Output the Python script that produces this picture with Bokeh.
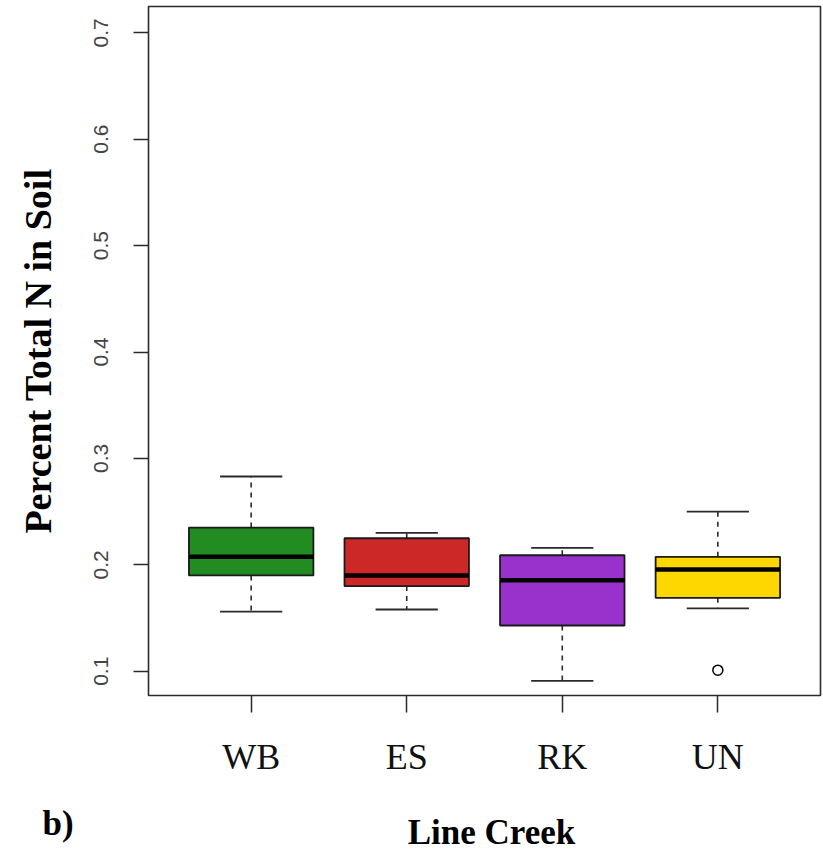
import math
from bokeh.plotting import figure
from bokeh.models import Range1d, FixedTicker, Label, ColumnDataSource
from bokeh.layouts import column
from bokeh.embed import file_html
from bokeh.resources import INLINE

# ---- data ----
categories = ["WB", "ES", "RK", "UN"]
colors = ["#228B22", "#CD2828", "#9932CC", "#FFD700"]
lower = [0.156, 0.158, 0.091, 0.159]
q1 = [0.190, 0.180, 0.143, 0.169]
median = [0.2075, 0.190, 0.1855, 0.1956]
q3 = [0.235, 0.225, 0.209, 0.2075]
upper = [0.283, 0.230, 0.216, 0.250]
outlier_cat = ["UN"]
outlier_val = [0.101]
y_ticks = [0.1, 0.2, 0.3, 0.4, 0.5, 0.6, 0.7]
y_tick_labels = ["0.1", "0.2", "0.3", "0.4", "0.5", "0.6", "0.7"]
x_title = "Line Creek"
y_title = "Percent Total N in Soil"
panel_tag = "b)"

pos = [i + 1 for i in range(len(categories))]
box_w = 0.8
cap_w = 0.4

p = figure(width=823, height=800, output_backend="svg", toolbar_location=None,
           x_range=Range1d(0.34, 4.66), y_range=Range1d(0.0772, 0.7247),
           min_border_left=148, min_border_right=3, min_border_top=6,
           min_border_bottom=105)
p.frame_align = False
p.grid.visible = False
p.background_fill_color = "white"
p.outline_line_color = "#2a2a2a"
p.outline_line_width = 1.6

src = ColumnDataSource(dict(x=pos, lower=lower, q1=q1, med=median, q3=q3,
                            upper=upper, color=colors,
                            xl=[x - box_w / 2 for x in pos],
                            xr=[x + box_w / 2 for x in pos],
                            cl=[x - cap_w / 2 for x in pos],
                            cr=[x + cap_w / 2 for x in pos]))

# whiskers (dashed)
p.segment(x0="x", y0="q3", x1="x", y1="upper", source=src,
          line_color="#2a2a2a", line_width=1.6, line_dash="5 5")
p.segment(x0="x", y0="q1", x1="x", y1="lower", source=src,
          line_color="#2a2a2a", line_width=1.6, line_dash="5 5")
# caps
p.segment(x0="cl", y0="upper", x1="cr", y1="upper", source=src,
          line_color="#2a2a2a", line_width=1.8)
p.segment(x0="cl", y0="lower", x1="cr", y1="lower", source=src,
          line_color="#2a2a2a", line_width=1.8)
# boxes
p.vbar(x="x", width=box_w, top="q3", bottom="q1", source=src,
       fill_color="color", line_color="#1a1a1a", line_width=1.8)
# medians
p.segment(x0="xl", y0="med", x1="xr", y1="med", source=src,
          line_color="black", line_width=4.5)
# outliers
ox = [categories.index(c) + 1 for c in outlier_cat]
p.scatter(ox, outlier_val, marker="circle", size=10, fill_color=None,
          line_color="black", line_width=1.5)

# axes
xa = p.xaxis[0]
xa.ticker = FixedTicker(ticks=pos)
xa.major_label_overrides = {x: c for x, c in zip(pos, categories)}
xa.axis_line_color = None
xa.major_tick_out = 17
xa.major_tick_in = 0
xa.major_tick_line_color = "#2a2a2a"
xa.major_tick_line_width = 1.5
xa.minor_tick_line_color = None
xa.major_label_text_font = "Liberation Serif"
xa.major_label_text_font_size = "36px"
xa.major_label_text_color = "#111111"
xa.major_label_standoff = 24

ya = p.yaxis[0]
ya.ticker = FixedTicker(ticks=y_ticks)
ya.major_label_overrides = {t: l for t, l in zip(y_ticks, y_tick_labels)}
ya.axis_line_color = None
ya.major_tick_out = 15
ya.major_tick_in = 0
ya.major_tick_line_color = "#2a2a2a"
ya.major_tick_line_width = 1.5
ya.minor_tick_line_color = None
ya.major_label_orientation = "vertical"
ya.major_label_text_font = "Liberation Sans"
ya.major_label_text_font_size = "21px"
ya.major_label_text_color = "#444444"
ya.major_label_standoff = 25
ya.axis_label = y_title
ya.axis_label_text_font = "Liberation Serif"
ya.axis_label_text_font_style = "bold"
ya.axis_label_text_font_size = "38px"
ya.axis_label_text_color = "black"
ya.axis_label_standoff = 33

# bottom strip with the panel tag and the x title
b = figure(width=823, height=51, output_backend="svg", toolbar_location=None,
           x_range=Range1d(0, 823), y_range=Range1d(0, 51),
           min_border=0)
b.frame_align = False
b.axis.visible = False
b.grid.visible = False
b.outline_line_color = None
b.add_layout(Label(x=491, y=19, x_units="screen", y_units="screen",
                   text=x_title, text_align="center",
                   text_baseline="alphabetic", text_font="Liberation Serif",
                   text_font_style="bold", text_font_size="35px",
                   text_color="black"))
b.add_layout(Label(x=42, y=28, x_units="screen", y_units="screen",
                   text=panel_tag, text_align="left",
                   text_baseline="alphabetic", text_font="Liberation Serif",
                   text_font_style="bold", text_font_size="35px",
                   text_color="black"))

layout = column(p, b, spacing=0)
open("out.html", "w").write(file_html(layout, INLINE))
